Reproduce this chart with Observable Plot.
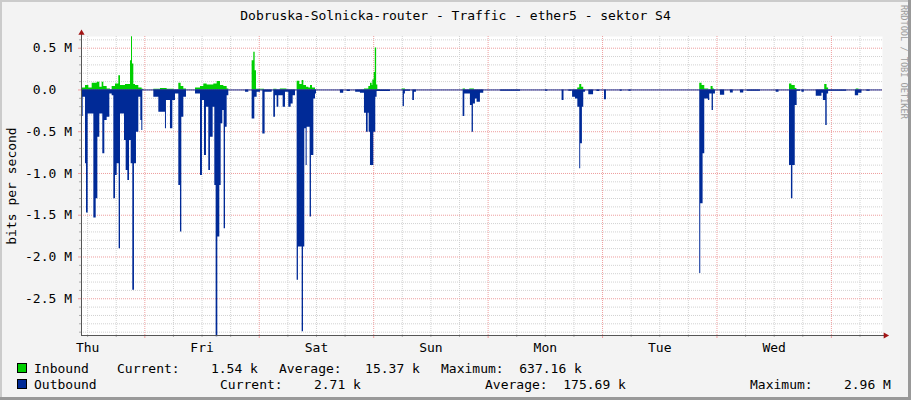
<!DOCTYPE html>
<html>
<head>
<meta charset="utf-8">
<script src="https://cdn.jsdelivr.net/npm/d3@7"></script>
<script src="https://cdn.jsdelivr.net/npm/@observablehq/plot@0.6"></script>
<style>
  html, body { margin: 0; padding: 0; background: #F3F3F3; }
  #wrap { position: relative; width: 911px; height: 400px; background: #F3F3F3; overflow: hidden;
          font-family: "DejaVu Sans Mono", monospace; font-size: 13px; color: #000; }
  .abs { position: absolute; white-space: pre; line-height: 13px; }
  #chart { position: absolute; left: 0; top: 26px; }
  .sw { position: absolute; width: 8px; height: 8px; border: 1px solid #000; }
  .bd { position: absolute; }
</style>
</head>
<body>
<div id="wrap">
  <div id="title" class="abs" style="left:0;top:9px;width:911px;text-align:center"></div>
  <div id="chart"></div>
  <div id="legend"></div>
  <div id="credit" class="abs" style="left:907.5px;top:5px;transform-origin:0 0;transform:rotate(90deg);font-size:8.6px;line-height:9px;color:#9C9C9C"></div>
  <div class="bd" style="left:0;top:0;width:911px;height:2px;background:#CBCBCB"></div>
  <div class="bd" style="left:0;top:0;width:2px;height:400px;background:#CBCBCB"></div>
  <div class="bd" style="right:0;top:0;width:3px;height:400px;background:#999999"></div>
  <div class="bd" style="left:0;bottom:0;width:911px;height:3px;background:#999999"></div>
</div>
<script>
// ---------- text ----------
const titleText = "Dobruska-Solnicka-router - Traffic - ether5 - sektor S4";
const creditText = "RRDTOOL / TOBI OETIKER";
const yAxisTitle = "bits per second";

// ---------- time axis ----------
const startTime = new Date(Date.UTC(2024, 0, 4, 10, 43)); // Thu
const spanHours = 168;
const dayLabels = ["Thu", "Fri", "Sat", "Sun", "Mon", "Tue", "Wed"];

// ---------- value axis (M = 1e6 bits/s) ----------
const yTickValues = [0.5, 0.0, -0.5, -1.0, -1.5, -2.0, -2.5];
const yTickLabels = ["0.5 M", "0.0\u00A0\u00A0", "-0.5 M", "-1.0 M", "-1.5 M", "-2.0 M", "-2.5 M"];
const yDomainM = [-2.94, 0.64];

// ---------- series: hours since start, kbit/s ----------
const inHours = [0.00,0.84,1.54,2.24,3.29,3.85,4.33,4.68,5.38,6.08,6.43,7.13,7.83,8.18,9.23,10.28,10.49,10.70,10.97,11.32,12.02,12.72,13.07,
  15.17,16.57,17.96,19.36,20.41,20.90,21.46,22.02,23.91,24.96,25.65,26.35,27.75,28.45,29.15,29.85,30.55,30.90,
  35.79,36.14,36.42,36.70,38.38,40.33,41.00,41.70,43.10,45.23,45.79,46.28,46.63,47.19,47.68,48.03,48.45,49.08,
  59.35,60.26,60.61,60.96,61.10,61.40,61.62,61.90,62.15,62.71,67.24,67.94,80.04,80.53,81.43,82.41,
  104.08,104.50,104.92,105.34,129.67,130.16,130.72,131.56,132.05,132.47,132.75,148.50,149.00,149.70,150.04,
  155.88,156.37,156.70,162.50,163.06,168.00];
const inKbps = [24,52,24,80,92,32,92,40,12,0,40,72,171,52,64,351,637,311,64,52,24,8,0,
  8,16,8,0,80,40,12,0,24,40,72,60,72,100,52,40,12,0,
  351,450,231,8,0,8,0,12,0,104,64,112,52,32,24,52,24,0,
  12,40,80,52,120,210,502,60,4,0,12,0,12,0,12,0,
  24,64,32,0,80,52,12,0,40,12,0,72,52,16,0,
  64,24,0,12,0,2];

const outHours = [0.00,0.35,0.84,1.05,1.40,2.59,3.08,3.43,3.84,4.47,4.89,5.38,5.94,6.43,6.78,7.13,7.48,7.90,8.18,9.02,9.37,9.72,10.07,10.42,10.76,11.11,11.53,12.02,12.44,12.65,12.86,13.07,
  15.17,16.22,17.61,17.82,18.66,19.15,19.71,20.41,20.76,21.04,21.46,22.02,
  23.91,24.96,25.37,25.79,26.21,26.70,27.05,27.61,27.96,28.24,28.59,29.01,29.29,29.64,29.92,30.20,30.55,30.90,
  34.39,35.09,35.79,36.35,36.84,37.54,38.03,38.51,40.00,40.33,40.68,41.03,41.38,42.29,42.78,43.48,43.97,44.39,44.88,
  45.23,45.50,46.28,46.56,46.83,47.11,47.33,47.95,48.23,48.73,49.08,49.29,
  54.30,55.00,55.70,56.40,57.50,58.50,59.35,59.77,60.12,60.33,60.61,61.31,61.72,62.00,64.80,
  67.45,67.73,67.94,69.00,69.48,69.83,70.25,
  80.04,80.39,81.57,81.92,82.20,82.62,82.97,83.67,84.37,87.90,92.10,
  97.30,97.80,100.80,101.20,102.20,102.90,103.00,103.60,104.10,104.50,104.70,105.06,105.34,105.70,106.40,107.40,108.10,108.70,109.70,110.10,113.00,113.40,114.80,115.30,
  129.67,129.88,130.37,130.72,131.49,131.77,132.26,132.54,132.96,134.00,134.90,136.10,136.70,138.20,138.90,139.60,142.40,
  145.70,146.30,148.50,148.90,149.20,149.70,150.10,150.80,151.10,151.60,154.10,155.30,155.60,156.10,156.40,156.70,160.50,
  162.30,163.00,163.70,164.70,165.40,168.00];
const outKbps = [319,88,884,1474,287,1534,1303,566,287,765,367,327,48,68,1303,1024,884,1900,287,606,964,1084,606,884,2398,884,506,88,367,486,8,0,
  88,267,466,127,466,127,48,1143,1701,327,88,0,
  48,1024,127,785,207,964,566,207,1143,2956,1761,1143,406,247,1661,446,68,0,
  28,0,347,88,28,0,526,28,0,327,68,207,68,207,28,207,167,68,0,
  2279,1880,2896,1880,466,904,446,1522,785,108,48,0,
  40,0,20,0,28,40,279,506,279,506,904,506,88,20,0,
  199,48,16,0,127,28,0,
  319,48,187,506,167,108,147,40,0,16,0,
  16,0,127,0,16,0,88,108,207,944,645,207,28,0,56,0,20,0,116,0,16,0,16,0,
  2199,1363,765,108,127,48,247,48,0,62,0,36,0,36,0,16,0,
  28,0,904,1303,904,187,16,0,28,0,76,40,127,426,48,16,0,
  68,40,0,16,0,3];

// ---------- legend ----------
const statLabels = ["Current:", "Average:", "Maximum:"];
const inStats = ["1.54 k", "15.37 k", "637.16 k"];
const outStats = ["2.71 k", "175.69 k", "2.96 M"];
const seriesNames = ["Inbound", "Outbound"];
const seriesColors = ["#00CF00", "#002A97"];

// ---------- build ----------
const HOUR = 3600e3;
const toDate = h => new Date(+startTime + h * HOUR);
const endTime = toDate(spanHours);
const inData = inHours.map((h, i) => ({t: toDate(h), v: inKbps[i] * 1e3}));
const outData = outHours.map((h, i) => ({t: toDate(h), v: -outKbps[i] * 1e3}));

const yMin = yDomainM[0] * 1e6, yMax = yDomainM[1] * 1e6;
const majorY = yTickValues.map(v => v * 1e6);
const yLabelMap = new Map(majorY.map((v, i) => [v, yTickLabels[i]]));
const minorY = d3.range(Math.ceil(yDomainM[0] * 10), Math.floor(yDomainM[1] * 10) + 1)
  .filter(k => k % 5 !== 0).map(k => k * 1e5);

const sixHours = d3.utcHour.every(6).range(startTime, endTime);
const majorX = d3.utcDay.range(startTime, endTime);
const minorX = sixHours.filter(d => d.getUTCHours() !== 0);
const noonTicks = d3.utcHour.range(startTime, endTime).filter(d => d.getUTCHours() === 12);
const xLabelMap = new Map(noonTicks.map((d, i) => [+d, dayLabels[i]]));

const gridMinor = "#D2D2D2", gridMajor = "#EE9E9E", axisColor = "#555555", arrowColor = "#A31515";

const chart = Plot.plot({
  width: 911, height: 330,
  marginLeft: 81, marginRight: 29, marginTop: 10, marginBottom: 21,
  style: {background: "transparent", fontFamily: "'DejaVu Sans Mono', monospace", fontSize: "13px", color: "#000", overflow: "visible"},
  x: {type: "utc", domain: [startTime, endTime]},
  y: {domain: [yMin, yMax]},
  marks: [
    Plot.frame({fill: "#FFFFFF", stroke: "none"}),
    Plot.ruleX(minorX, {stroke: gridMinor, strokeDasharray: "1,1"}),
    Plot.ruleY(minorY, {stroke: gridMinor, strokeDasharray: "1,1"}),
    Plot.ruleX(majorX, {stroke: gridMajor, strokeDasharray: "1,1"}),
    Plot.ruleY(majorY, {stroke: gridMajor, strokeDasharray: "1,1"}),
    Plot.areaY(inData, {x: "t", y: "v", curve: "step-after", fill: seriesColors[0]}),
    Plot.areaY(outData, {x: "t", y: "v", curve: "step-after", fill: seriesColors[1]}),
    Plot.ruleY([0], {stroke: "#14288C"}),
    Plot.axisX(minorX, {tickSize: 2, tickFormat: () => "", stroke: "#AAAAAA", label: null}),
    Plot.axisX(majorX, {tickSize: 3, tickFormat: () => "", stroke: gridMajor, label: null}),
    Plot.axisX(noonTicks, {tickSize: 0, tickPadding: 7, tickFormat: d => xLabelMap.get(+d), fill: "#000", label: null}),
    Plot.axisY(minorY, {tickSize: 2, tickFormat: () => "", stroke: "#AAAAAA", label: null}),
    Plot.axisY(majorY, {tickSize: 3, tickFormat: () => "", stroke: gridMajor, label: null}),
    Plot.axisY(majorY, {tickSize: 0, tickPadding: 9.5, tickFormat: d => yLabelMap.get(d), fill: "#000", label: null}),
    Plot.ruleX([startTime], {stroke: axisColor, insetTop: -4}),
    Plot.ruleY([yMin], {stroke: axisColor, insetRight: -4}),
    Plot.dot([[startTime, yMax]], {symbol: "triangle", r: 2.3, fill: arrowColor, stroke: "none", dy: -3.5}),
    Plot.dot([[endTime, yMin]], {symbol: "triangle", rotate: 90, r: 2.3, fill: arrowColor, stroke: "none", dx: 3}),
    Plot.text([yAxisTitle], {frameAnchor: "left", rotate: -90, dx: -69.5, textAnchor: "middle", lineAnchor: "middle", fill: "#000"})
  ]
});
document.getElementById("chart").appendChild(chart);

document.getElementById("title").textContent = titleText;
document.getElementById("credit").textContent = creditText;

// legend rows (positions are layout, not data)
const legend = document.getElementById("legend");
const rowTops = [362, 378];
const statLefts = [[117, 279, 441], [220, 485, 750]];
[inStats, outStats].forEach((stats, r) => {
  const sw = document.createElement("div");
  sw.className = "sw";
  sw.style.left = "17px"; sw.style.top = (rowTops[r] + 1) + "px";
  sw.style.background = seriesColors[r];
  legend.appendChild(sw);
  const name = document.createElement("div");
  name.className = "abs";
  name.style.left = "34px"; name.style.top = rowTops[r] + "px";
  name.textContent = seriesNames[r];
  legend.appendChild(name);
  stats.forEach((s, j) => {
    const el = document.createElement("div");
    el.className = "abs";
    el.style.left = statLefts[r][j] + "px"; el.style.top = rowTops[r] + "px";
    el.textContent = statLabels[j] + s.padStart(10, " ");
    legend.appendChild(el);
  });
});
</script>
</body>
</html>
